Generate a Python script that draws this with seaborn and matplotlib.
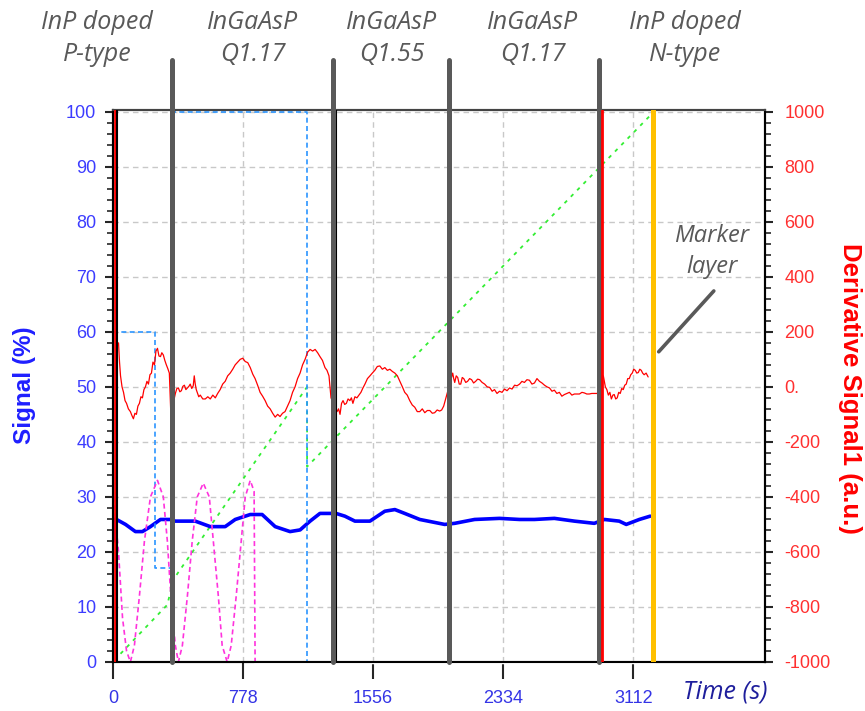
import matplotlib
matplotlib.use("Agg")
import matplotlib.pyplot as plt
import seaborn as sns

# time axis (s) and layer boundaries
time_ticks = [0, 778, 1556, 2334, 3112]
layer_edges = [355, 1317, 2010, 2905]
marker_time = 3231
layer_names = ["InP doped\nP-type", "InGaAsP\nQ1.17", "InGaAsP\nQ1.55",
               "InGaAsP\nQ1.17", "InP doped\nN-type"]
layer_label_x = [97, 253, 392, 533, 685]  # pixel centres of the top labels

# main signal (%) - thick blue
signal_t = [3, 15, 75, 134, 176, 224, 284, 343, 373, 492, 582, 671, 731, 821, 892,
            970, 1059, 1119, 1179, 1238, 1298, 1334, 1387, 1447, 1537, 1626, 1686,
            1745, 1835, 1984, 2044, 2163, 2312, 2432, 2521, 2640, 2760, 2879, 2939,
            3028, 3070, 3148, 3213]
signal_v = [22, 26, 25, 23.7, 23.7, 24.6, 25.9, 25.9, 25.6, 25.6, 24.6, 24.6, 25.9,
            26.8, 26.8, 24.6, 23.7, 24, 25.6, 27, 27, 27, 26.5, 25.6, 25.6, 27.4,
            27.7, 27, 25.9, 25, 25.2, 25.9, 26.1, 25.9, 25.9, 26.1, 25.6, 25.2, 25.9,
            25.6, 25, 25.9, 26.5]

# derivative signal (a.u.) - thin red, right axis
deriv_t = [33, 39, 45, 54, 63, 72, 81, 92, 104, 113, 122, 131, 140, 149, 158, 167, 176,
           185, 194, 203, 212, 221, 230, 239, 248, 257, 266, 275, 284, 292, 301, 310,
           319, 328, 337, 346,
           373, 382, 391, 400, 409, 418, 427, 436, 445, 454, 462, 471, 480, 486, 492,
           498, 504, 513, 522, 537, 552, 567, 582, 597, 612, 626, 641, 656, 671, 686,
           701, 716, 731, 746, 761, 776, 791, 806, 821, 836, 850, 865, 880, 895, 910,
           925, 940, 955, 970, 985, 999, 1014, 1029, 1044, 1059, 1074, 1089, 1104,
           1119, 1134, 1149, 1164, 1179, 1194, 1209, 1224, 1238, 1253, 1268, 1280,
           1292, 1304,
           1340, 1349, 1358, 1367, 1376, 1386, 1396, 1406, 1417, 1426, 1435, 1447,
           1459, 1471, 1483, 1495, 1507, 1522, 1537, 1551, 1566, 1581, 1596, 1611,
           1626, 1641, 1656, 1671, 1686, 1701, 1716, 1731, 1745, 1760, 1775, 1790,
           1805, 1820, 1835, 1850, 1865, 1880, 1895, 1910, 1924, 1939, 1954, 1966,
           1978, 1996,
           2032, 2038, 2044, 2053, 2062, 2071, 2080, 2089, 2098, 2110, 2121, 2133,
           2145, 2157, 2169, 2181, 2193, 2208, 2223, 2238, 2253, 2268, 2282, 2297,
           2312, 2327, 2342, 2357, 2372, 2387, 2402, 2417, 2432, 2446, 2461, 2476,
           2491, 2506, 2521, 2536, 2551, 2566, 2581, 2596, 2611, 2626, 2640, 2655,
           2670, 2685, 2700, 2715, 2730, 2745, 2760, 2775, 2790, 2805, 2819, 2834,
           2849, 2864, 2879, 2897,
           2933, 2939, 2945, 2954, 2963, 2972, 2981, 2990, 2998, 3007, 3016, 3025,
           3034, 3043, 3052, 3061, 3070, 3079, 3088, 3097, 3106, 3115, 3124, 3133,
           3142, 3151, 3160, 3168, 3177, 3189, 3201]
deriv_v = [160, 90, 40, 0, -20, -50, -60, -80, -90, -104, -116, -96, -100, -70, -60,
           -36, -40, -10, 0, 20, 10, 44, 50, 90, 80, 130, 140, 112, 110, 124, 116, 96,
           80, 66, 50, -100,
           -24, -6, -4, -18, -14, 2, 6, -10, -4, 2, 10, -6, 4, 40, 10, -10, -20, -36,
           -30, -44, -44, -36, -44, -30, -40, -24, -10, 10, 20, 40, 50, 64, 80, 90,
           100, 104, 92, 88, 70, 46, 30, 6, -20, -34, -50, -70, -80, -96, -110, -100,
           -108, -96, -90, -70, -50, -20, 0, 30, 50, 80, 100, 126, 136, 130, 136, 124,
           110, 96, 70, 60, 40, -40,
           -90, -80, -100, -60, -50, -64, -60, -44, -50, -40, -60, -36, -40, -30, -20,
           -4, 10, 30, 40, 50, 60, 74, 76, 64, 70, 60, 64, 56, 50, 40, 20, 0, -20, -30,
           -50, -66, -74, -90, -90, -80, -94, -86, -86, -96, -94, -84, -88, -84, -70,
           -30,
           50, 30, 16, 40, 34, 10, 10, 34, 30, 16, 20, 30, 26, 14, 20, 28, 26, 16, 10,
           0, -2, -16, -10, -24, -16, -20, -8, -14, -4, -8, 6, 4, 10, 20, 16, 26, 24,
           10, 14, 30, 20, 14, 6, 0, -4, -16, -12, -24, -20, -34, -28, -24, -20, -30,
           -26, -26, -26, -20, -22, -26, -26, -24, -24, -24,
           40, 20, 0, -10, -30, -20, -44, -30, -28, -44, -40, -20, -24, -6, -10, 6,
           10, 30, 30, 44, 50, 64, 60, 50, 52, 64, 60, 50, 44, 50, 36]

# dotted reference traces (%)
step_t = [0, 254, 254, 367, 367, 1161, 1161, 1298]
step_v = [60, 60, 17, 17, 100, 100, 0, 0]

wave_t = [3, 33, 57, 81, 104, 128, 158, 188, 224, 266, 301, 325, 346, 373, 391, 415,
          445, 474, 504, 540, 576, 600, 630, 653, 683, 707, 737, 767, 791, 821, 844,
          850, 3237]
wave_v = [30, 20, 8, 2, 0, 3, 12, 22, 30, 33, 30, 22, 12, 3, 0, 3, 12, 22, 30, 32.5,
          30, 22, 12, 3, 0, 3, 12, 22, 30, 33, 31, 0, 0]

ramp_t = [45, 325, 361, 1161, 1161, 3213]
ramp_v = [1.5, 10.4, 15, 50, 35.5, 99.3]

sns.set_style("white")
plt.rcParams["font.family"] = ["Liberation Sans", "DejaVu Sans"]

W, H = 865, 711
fig = plt.figure(figsize=(W / 100, H / 100), dpi=100)
ax = fig.add_axes([113 / W, 1 - 662 / H, (765 - 113) / W, (662 - 109.5) / H])
ax2 = ax.twinx()

ax.set_xlim(0, 3900)
ax.set_ylim(0, 100.4)
ax2.set_ylim(-1000, 1008)

ax.grid(True, color="#c8c8c8", linestyle=(0, (4, 3)), linewidth=1)

# hide the spine under the flat part of the dotted traces
ax.plot([850, 3237], [0, 0], color="white", linewidth=2.5, clip_on=False, zorder=4)
sns.lineplot(x=step_t, y=step_v, ax=ax, sort=False, estimator=None, color="#2b95ff",
             linewidth=1.2, linestyle=(0, (3, 2)), zorder=5, clip_on=False)
sns.lineplot(x=wave_t, y=wave_v, ax=ax, sort=False, estimator=None, color="#ff33dd",
             linewidth=1.2, linestyle=(0, (3, 2)), zorder=5, clip_on=False)
sns.lineplot(x=ramp_t, y=ramp_v, ax=ax, sort=False, estimator=None, color="#33ee33",
             linewidth=1.3, linestyle=(0, (2, 3)), zorder=3)
sns.lineplot(x=signal_t, y=signal_v, ax=ax, sort=False, estimator=None, color="#0000ff",
             linewidth=2.6, zorder=4)

sns.lineplot(x=deriv_t, y=deriv_v, ax=ax2, sort=False, estimator=None, color="#ff0000",
             linewidth=0.9, zorder=2)

# vertical markers
ax2.axvline(10, color="#ff0000", linewidth=2, zorder=3)
ax2.axvline(22, color="black", linewidth=1.5, zorder=3)
ax2.axvline(1334, color="black", linewidth=1.5, zorder=3)
for t in layer_edges:
    ax2.axvline(t, ymin=0, ymax=1.09, color="#595959", linewidth=3.6, clip_on=False, zorder=4)
ax2.axvline(2927, color="#ff0000", linewidth=2, zorder=5)
ax2.axvline(marker_time, color="#ffc000", linewidth=3.6, zorder=5)

# ticks
tick_font = {"family": ["Liberation Sans Narrow", "Liberation Sans", "DejaVu Sans"], "size": 13}
ax.set_yticks(range(0, 101, 10))
ax.set_yticks(range(0, 101, 2), minor=True)
ax.set_yticklabels([str(v) for v in range(0, 101, 10)], fontdict=tick_font, color="#3c3cff")
ax.set_xticks(time_ticks)
ax.set_xticklabels([str(v) for v in time_ticks], fontdict=tick_font, color="#3434e6")
ax.tick_params(axis="y", which="major", direction="out", length=6, width=1.5, pad=6, left=True)
ax.tick_params(axis="y", which="minor", direction="out", length=4, width=1.2, left=True)
ax.tick_params(axis="x", direction="out", length=12, width=1.5, pad=8, bottom=True)

r_ticks = list(range(-1000, 1001, 200))
ax2.set_yticks(r_ticks)
ax2.set_yticks(range(-1000, 1001, 40), minor=True)
ax2.set_yticklabels(["0." if v == 0 else str(v) for v in r_ticks], fontdict=tick_font, color="#ff3030")
ax2.tick_params(axis="y", which="major", direction="out", length=6, width=1.5, pad=8, right=True)
ax2.tick_params(axis="y", which="minor", direction="out", length=4, width=1.2, right=True)

for a in (ax, ax2):
    a.set_xlabel("")
    a.set_ylabel("")
    for side in ("left", "right", "bottom"):
        a.spines[side].set_color("black")
        a.spines[side].set_linewidth(1.5)
    a.spines["top"].set_color("#444444")
    a.spines["top"].set_linewidth(1.5)

# axis titles
fig.text(25 / W, 1 - 385 / H, "Signal (%)", rotation=90, ha="center", va="center",
         fontsize=17.5, fontweight="bold", color="#1f1fff")
fig.text(850 / W, 1 - 388 / H, "Derivative Signal1 (a.u.)", rotation=270, ha="center",
         va="center", fontsize=18.5, fontweight="bold", color="#ff0000")
fig.text(725 / W, 1 - 692 / H, "Time (s)", ha="center", va="center", fontsize=18,
         style="italic", color="#1e1e9c", family=["Open Sans", "DejaVu Sans"])

# layer names above the plot
for name, px in zip(layer_names, layer_label_x):
    fig.text(px / W, 1 - 38.5 / H, name, ha="center", va="center", fontsize=18,
             style="italic", color="#595959", linespacing=1.42,
             family=["Open Sans", "DejaVu Sans"])

fig.text(712 / W, 1 - 251.5 / H, "Marker\nlayer", ha="center", va="center", fontsize=17,
         style="italic", color="#595959", linespacing=1.4, family=["Open Sans", "DejaVu Sans"])
ax.annotate("", xy=(3253, 56), xytext=(3605, 67.8),
            arrowprops=dict(arrowstyle="-", color="#595959", lw=2.6))

fig.savefig("out.png", dpi=100)
